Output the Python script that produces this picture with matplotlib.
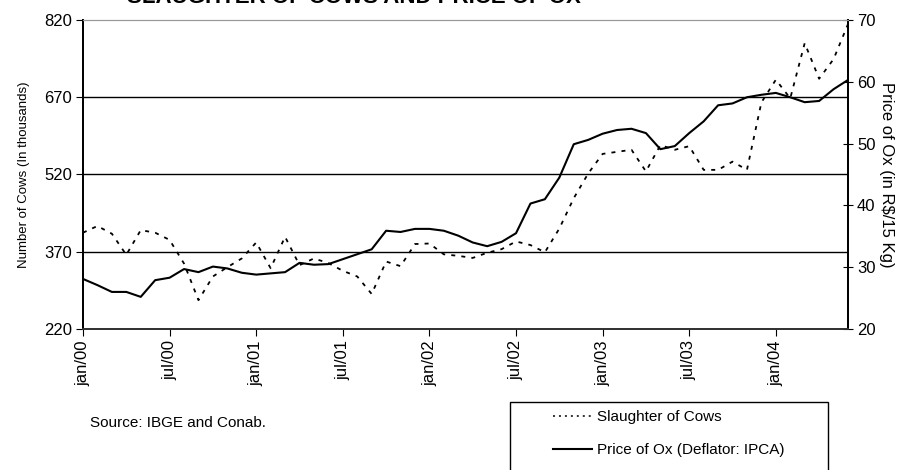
import matplotlib
matplotlib.use("Agg")
import matplotlib.pyplot as plt
from matplotlib.lines import Line2D
from matplotlib.patches import Rectangle

plt.rcParams['font.family'] = ['Liberation Sans', 'DejaVu Sans']

# monthly, jan/00 .. jun/04
months = list(range(54))
tick_pos = [0, 6, 12, 18, 24, 30, 36, 42, 48]
tick_labels = ["jan/00", "jul/00", "jan/01", "jul/01", "jan/02",
               "jul/02", "jan/03", "jul/03", "jan/04"]

slaughter = [407, 420, 405, 364, 412, 407, 393, 347, 276, 322,
             340, 357, 388, 338, 399, 344, 357, 348, 333, 322,
             288, 351, 342, 385, 386, 365, 362, 358, 368, 375,
             390, 383, 369, 415, 474, 522, 560, 564, 568, 526,
             577, 568, 575, 529, 529, 545, 529, 660, 704, 668,
             775, 706, 744, 812]

price = [28.1, 27.1, 26.0, 26.0, 25.2, 27.9, 28.3, 29.7, 29.2, 30.1,
         29.8, 29.1, 28.8, 29.0, 29.2, 30.7, 30.4, 30.5, 31.3, 32.1,
         32.9, 35.9, 35.7, 36.2, 36.2, 35.9, 35.1, 34.0, 33.4, 34.1,
         35.5, 40.3, 41.0, 44.5, 49.9, 50.6, 51.6, 52.2, 52.4, 51.7,
         49.1, 49.6, 51.7, 53.6, 56.2, 56.5, 57.5, 57.9, 58.2, 57.5,
         56.7, 56.9, 58.8, 60.3]

left_ticks = [220, 370, 520, 670, 820]
right_ticks = [20, 30, 40, 50, 60, 70]

fig = plt.figure(figsize=(9.01, 4.70), dpi=100)
ax = fig.add_axes([83/901, 1-329/470, (848-83)/901, (329-20)/470])
ax2 = ax.twinx()

dash = (0, (2.2, 3.4))
ax.plot(months, slaughter, color='black', lw=1.3, linestyle=dash)
ax2.plot(months, price, color='black', lw=1.5)

ax.set_xlim(0, 53)
ax.set_ylim(220, 820)
ax2.set_ylim(20, 70)
ax.set_yticks(left_ticks)
ax2.set_yticks(right_ticks)
ax.set_xticks(tick_pos)
ax.set_xticklabels(tick_labels, rotation=90)

for y in [370, 520, 670]:
    ax.axhline(y, color='black', lw=1.0, zorder=0)

for a in (ax, ax2):
    a.spines['top'].set_color('#999999')
    a.spines['left'].set_color('black')
    a.spines['right'].set_color('black')
    a.spines['bottom'].set_color('#333333')
    a.spines['bottom'].set_linewidth(1.3)
    a.spines['left'].set_linewidth(1.3)
    a.spines['right'].set_linewidth(1.3)

ax.tick_params(axis='y', direction='out', length=5, labelsize=12, pad=3)
ax.tick_params(axis='x', direction='out', length=5, labelsize=12, pad=3)
ax2.tick_params(axis='y', direction='inout', length=7, labelsize=12, pad=3)

ax.set_ylabel("Number of Cows (In thousands)", fontsize=9.5, labelpad=10)
ax2.set_ylabel("Price of Ox (in R$/15 Kg)", fontsize=12, rotation=-90, labelpad=13)

fig.text(354/901, 1-3/470, "SLAUGHTER OF COWS AND PRICE OF OX", fontsize=16,
         fontweight='bold', ha='center', va='baseline')

fig.text(90/901, 1-423/470, "Source: IBGE and Conab.", fontsize=11,
         ha='left', va='center')

# legend box (extends past the bottom edge)
fig.patches.append(Rectangle((510/901, -0.05), (828-510)/901, (1-402/470)+0.05,
                             transform=fig.transFigure, fill=False,
                             edgecolor='black', lw=1.0))
handles = [Line2D([], [], color='black', lw=1.1, linestyle=(0, (1.3, 2.6))),
           Line2D([], [], color='black', lw=1.5)]
fig.legend(handles, ["Slaughter of Cows", "Price of Ox (Deflator: IPCA)"],
           loc='upper left', bbox_to_anchor=(553/901, 1-410/470),
           frameon=False, fontsize=11, handlelength=2.55, handletextpad=0.3,
           labelspacing=1.25, borderaxespad=0, borderpad=0)

fig.savefig("out.png", dpi=100)
